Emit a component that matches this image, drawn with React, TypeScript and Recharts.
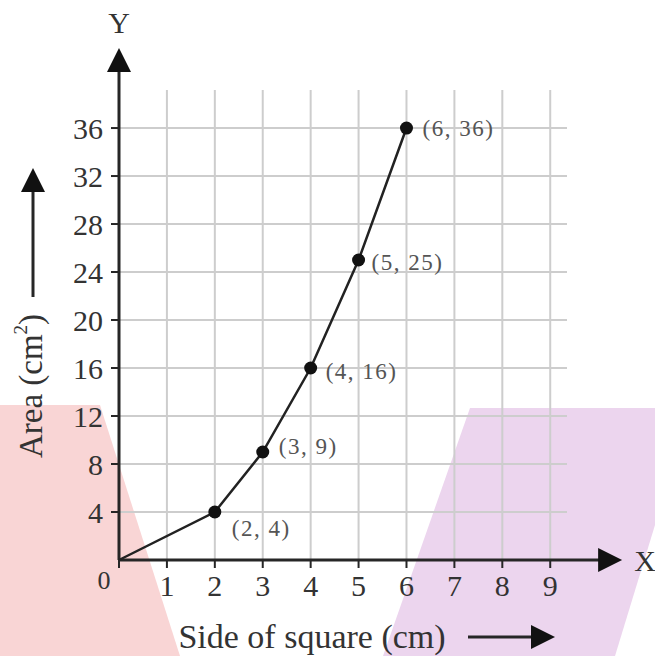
import { ComposedChart, Line, XAxis, YAxis, CartesianGrid, ReferenceLine, LabelList } from 'recharts'

const sides = [0, 2, 3, 4, 5, 6]
const areas = [0, 4, 9, 16, 25, 36]
const xTicks = [0, 1, 2, 3, 4, 5, 6, 7, 8, 9]
const yTicks = [4, 8, 12, 16, 20, 24, 28, 32, 36]
const xTitle = 'Side of square (cm)'
const yTitle = 'Area (cm'

const data = sides.map((s, i) => ({ side: s, area: areas[i] }))

const SERIF = '"Liberation Serif", "Times New Roman", serif'
const INK = '#262626'

// label offsets so each "(x, y)" tag sits where the textbook put it
const labelShift: Record<number, [number, number]> = {
  1: [17, 16],
  2: [16, -6],
  3: [15, 3],
  4: [13, 2],
  5: [16, 0],
}

function Arrow(props: any) {
  const { x1, y1, x2, y2, tag, tagDx = 0, tagDy = 0 } = props
  const len = Math.hypot(x2 - x1, y2 - y1) || 1
  const ux = (x2 - x1) / len
  const uy = (y2 - y1) / len
  const head = 24
  const half = 12
  const bx = x2 - ux * head
  const by = y2 - uy * head
  const pts = `${x2},${y2} ${bx - uy * half},${by + ux * half} ${bx + uy * half},${by - ux * half}`
  return (
    <g>
      <line x1={x1} y1={y1} x2={bx + ux * 2} y2={by + uy * 2} stroke={INK} strokeWidth={3} />
      <polygon points={pts} fill="#111" />
      {tag && (
        <text x={x2 + tagDx} y={y2 + tagDy} fill="#333" fontSize={30} fontFamily={SERIF} textAnchor="middle" dominantBaseline="central">
          {tag}
        </text>
      )}
    </g>
  )
}

function XTick({ x, y, payload }: any) {
  const zero = payload.value === 0
  return (
    <text
      x={zero ? x - 15 : x}
      y={zero ? y - 4 : y}
      dy="0.71em"
      textAnchor="middle"
      fill="#333"
      fontSize={zero ? 26 : 30}
      fontFamily={SERIF}
    >
      {payload.value}
    </text>
  )
}

function PointLabel({ x, y, index }: any) {
  if (!index) return null
  const [dx, dy] = labelShift[index] ?? [14, 0]
  return (
    <text
      x={x + dx}
      y={y + dy}
      fill="#555"
      fontSize={23}
      letterSpacing={1.5}
      fontFamily={SERIF}
      dominantBaseline="central"
    >
      {`(${sides[index]}, ${areas[index]})`}
    </text>
  )
}

function Dot({ cx, cy, index }: any) {
  if (index === 0) return <g key={index} />
  return <circle key={index} cx={cx} cy={cy} r={6.5} fill="#111" />
}

function XTitle() {
  return (
    <g>
      <text x={312} y={636} fill="#333" fontSize={34} fontFamily={SERIF} textAnchor="middle" dominantBaseline="central">
        {xTitle}
      </text>
      <Arrow x1={468} y1={637} x2={555} y2={637} />
    </g>
  )
}

function YTitle() {
  return (
    <g>
      <text
        transform="translate(31, 386) rotate(-90)"
        fill="#333"
        fontSize={33}
        fontFamily={SERIF}
        textAnchor="middle"
        dominantBaseline="central"
      >
        {yTitle}
        <tspan fontSize={19} dy={-11}>2</tspan>
        <tspan dy={11}>)</tspan>
      </text>
      <Arrow x1={33} y1={297} x2={33} y2={168} />
    </g>
  )
}

export default function App() {
  return (
    <div style={{ position: 'absolute', left: 0, top: 0, width: 655, height: 656, background: '#fff', overflow: 'hidden' }}>
      <div
        style={{
          position: 'absolute',
          inset: 0,
          background: '#f9d5d5',
          clipPath: 'polygon(0px 405px, 100px 405px, 180px 656px, 0px 656px)',
        }}
      />
      <div
        style={{
          position: 'absolute',
          inset: 0,
          background: '#ecd5ee',
          clipPath: 'polygon(470px 408px, 655px 408px, 655px 525px, 615px 656px, 383px 656px)',
        }}
      />
      <ComposedChart
        width={655}
        height={656}
        data={data}
        margin={{ top: 90, right: 88, bottom: 0, left: 0 }}
        style={{ position: 'absolute', left: 0, top: 0 }}
      >
        <CartesianGrid
          stroke="#cdcdcd"
          strokeWidth={2}
          horizontalValues={yTicks}
          verticalValues={xTicks}
        />
        <XAxis
          dataKey="side"
          type="number"
          domain={[0, 9.35]}
          ticks={xTicks}
          interval={0}
          height={96}
          axisLine={false}
          tickSize={8}
          tickMargin={7}
          tickLine={{ stroke: INK, strokeWidth: 2 }}
          tick={<XTick />}
          label={{ content: () => <XTitle /> }}
        />
        <YAxis
          type="number"
          domain={[0, 39.17]}
          ticks={yTicks}
          interval={0}
          width={119}
          axisLine={false}
          tickSize={8}
          tickMargin={8}
          tickLine={{ stroke: INK, strokeWidth: 2 }}
          tick={{ fill: '#333', fontSize: 30, fontFamily: SERIF }}
          label={{ content: () => <YTitle /> }}
        />
        <ReferenceLine
          segment={[{ x: 0, y: 0 }, { x: 10.5, y: 0 }]}
          ifOverflow="visible"
          shape={(p: any) => <Arrow {...p} tag="X" tagDx={23} tagDy={0} />}
        />
        <ReferenceLine
          segment={[{ x: 0, y: 0 }, { x: 0, y: 42.67 }]}
          ifOverflow="visible"
          shape={(p: any) => <Arrow {...p} tag="Y" tagDx={0} tagDy={-26} />}
        />
        <Line
          dataKey="area"
          type="linear"
          stroke="#222"
          strokeWidth={2.5}
          dot={Dot}
          activeDot={false}
          isAnimationActive={false}
        >
          <LabelList dataKey="area" content={<PointLabel />} />
        </Line>
      </ComposedChart>
    </div>
  )
}
